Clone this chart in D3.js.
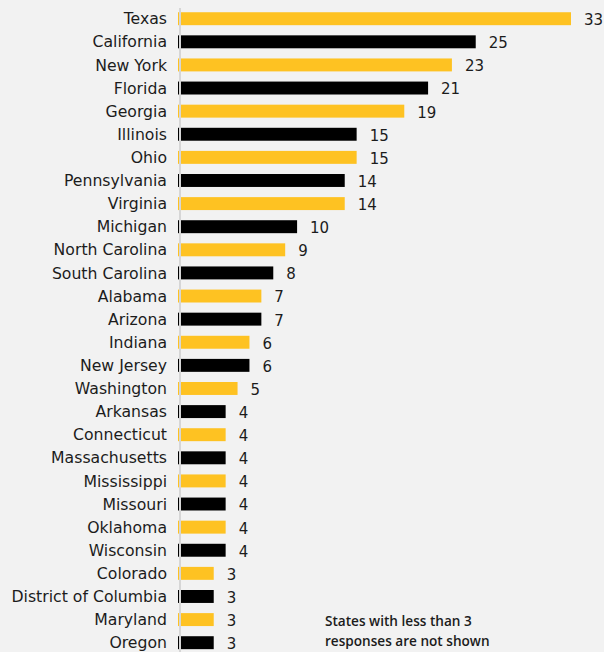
<!DOCTYPE html>
<html>
<head>
<meta charset="utf-8">
<script src="https://cdn.jsdelivr.net/npm/d3@7"></script>
<style>
  html, body { margin: 0; padding: 0; background: #f2f2f2; }
  svg { display: block; font-family: "DejaVu Sans", "Noto Sans", sans-serif; }
</style>
</head>
<body>
<svg id="chart" width="604" height="652"></svg>
<script>
// Survey responses by state
const states = [
  "Texas", "California", "New York", "Florida", "Georgia", "Illinois", "Ohio",
  "Pennsylvania", "Virginia", "Michigan", "North Carolina", "South Carolina",
  "Alabama", "Arizona", "Indiana", "New Jersey", "Washington", "Arkansas",
  "Connecticut", "Massachusetts", "Mississippi", "Missouri", "Oklahoma",
  "Wisconsin", "Colorado", "District of Columbia", "Maryland", "Oregon"
];
const responses = [
  33, 25, 23, 21, 19, 15, 15,
  14, 14, 10, 9, 8,
  7, 7, 6, 6, 5, 4,
  4, 4, 4, 4, 4,
  4, 3, 3, 3, 3
];
const barColors = ["#fec222", "#000000"];
const noteLines = ["States with less than 3", "responses are not shown"];

const data = states.map((s, i) => ({ state: s, value: responses[i], i }));

const svg = d3.select("#chart");

const x = d3.scaleLinear().domain([0, 33]).range([178, 571]);
const y = d3.scaleBand()
  .domain(states)
  .range([7.15, 654.25])
  .paddingInner(0.44)
  .paddingOuter(0.22);

// bars
svg.append("g")
  .selectAll("rect")
  .data(data)
  .join("rect")
  .attr("x", x(0))
  .attr("y", d => y(d.state))
  .attr("width", d => x(d.value) - x(0))
  .attr("height", y.bandwidth())
  .attr("fill", d => barColors[d.i % 2]);

// baseline
svg.append("line")
  .attr("x1", 180).attr("x2", 180)
  .attr("y1", 8).attr("y2", 652)
  .attr("stroke", "#d6d6d6")
  .attr("stroke-width", 2);

// state labels
svg.append("g")
  .selectAll("text")
  .data(data)
  .join("text")
  .attr("x", 167)
  .attr("y", d => y(d.state) + y.bandwidth() / 2)
  .attr("dy", "0.36em")
  .attr("text-anchor", "end")
  .attr("font-size", 15.7)
  .attr("fill", "#1c1c1c")
  .text(d => d.state);

// value labels
svg.append("g")
  .selectAll("text")
  .data(data)
  .join("text")
  .attr("x", d => x(d.value) + 13)
  .attr("y", d => y(d.state) + y.bandwidth() / 2 + 1)
  .attr("dy", "0.36em")
  .attr("font-size", 15)
  .attr("fill", "#1c1c1c")
  .text(d => d.value);

// footnote
svg.append("g")
  .selectAll("text")
  .data(noteLines)
  .join("text")
  .attr("x", 325)
  .attr("y", (d, i) => 626 + i * 20)
  .attr("font-family", "'Open Sans', sans-serif")
  .attr("font-size", 13.6)
  .attr("font-weight", 600)
  .attr("fill", "#1c1c1c")
  .text(d => d);
</script>
</body>
</html>
